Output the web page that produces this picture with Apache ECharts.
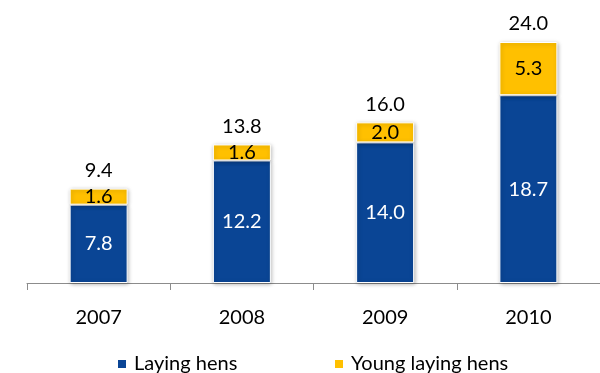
<!DOCTYPE html>
<html>
<head>
<meta charset="utf-8">
<script src="https://cdn.jsdelivr.net/npm/echarts@6/dist/echarts.min.js"></script>
<style>
  html, body { margin: 0; padding: 0; background: #fff; }
  #chart { width: 600px; height: 373px; }
</style>
</head>
<body>
<div id="chart"></div>
<script>
// Laying hen counts per year (millions), stacked by category
const years = ['2007', '2008', '2009', '2010'];
const layingHens = [7.8, 12.2, 14.0, 18.7];
const youngLayingHens = [1.6, 1.6, 2.0, 5.3];
const totals = [9.4, 13.8, 16.0, 24.0];

const FONT = 'Lato';
const BLUE = '#0A4595';
const YELLOW = '#FFC000';

const barStyle = (color) => ({
  color: color,
  borderColor: '#ffffff',
  borderWidth: 1,
  shadowColor: 'rgba(0,0,0,0.28)',
  shadowBlur: 4,
  shadowOffsetX: 1,
  shadowOffsetY: 1
});

const chart = echarts.init(document.getElementById('chart'));
chart.setOption({
  animation: false,
  textStyle: { fontFamily: FONT },
  grid: { left: 27, right: 0, top: 42, bottom: 90 },
  xAxis: {
    type: 'category',
    data: years,
    axisLine: { lineStyle: { color: '#8c8c8c', width: 1 } },
    axisTick: { show: true, length: 7, lineStyle: { color: '#8c8c8c' } },
    axisLabel: { color: '#000', fontSize: 20, fontFamily: FONT, margin: 25 }
  },
  yAxis: {
    type: 'value',
    min: 0,
    max: 24,
    show: false
  },
  legend: [
    {
      left: 111, top: 349,
      icon: 'rect', itemWidth: 10, itemHeight: 10, itemGap: 0,
      textStyle: { color: '#000', fontSize: 20, fontFamily: FONT, padding: [0, 0, 0, 2] },
      data: ['Laying hens']
    },
    {
      left: 328, top: 349,
      icon: 'rect', itemWidth: 10, itemHeight: 10, itemGap: 0,
      textStyle: { color: '#000', fontSize: 20, fontFamily: FONT, padding: [0, 0, 0, 2] },
      data: ['Young laying hens']
    }
  ],
  series: [
    {
      name: 'Laying hens',
      type: 'bar',
      stack: 'hens',
      barWidth: 58,
      data: layingHens,
      itemStyle: barStyle(BLUE),
      label: {
        show: true, position: 'inside', color: '#fff',
        fontSize: 20, fontFamily: FONT,
        formatter: (p) => p.value.toFixed(1)
      }
    },
    {
      name: 'Young laying hens',
      type: 'bar',
      stack: 'hens',
      barWidth: 58,
      data: youngLayingHens,
      itemStyle: barStyle(YELLOW),
      label: {
        show: true, position: 'inside', color: '#000',
        fontSize: 20, fontFamily: FONT,
        formatter: (p) => p.value.toFixed(1)
      }
    },
    {
      // invisible points carrying the total above each bar
      name: 'Total',
      type: 'scatter',
      data: totals,
      symbolSize: 0,
      silent: true,
      itemStyle: { opacity: 1, color: '#000' },
      label: {
        show: true, position: 'top', distance: 8, color: '#000',
        fontSize: 20, fontFamily: FONT,
        formatter: (p) => p.value.toFixed(1)
      }
    }
  ]
});
</script>
</body>
</html>
